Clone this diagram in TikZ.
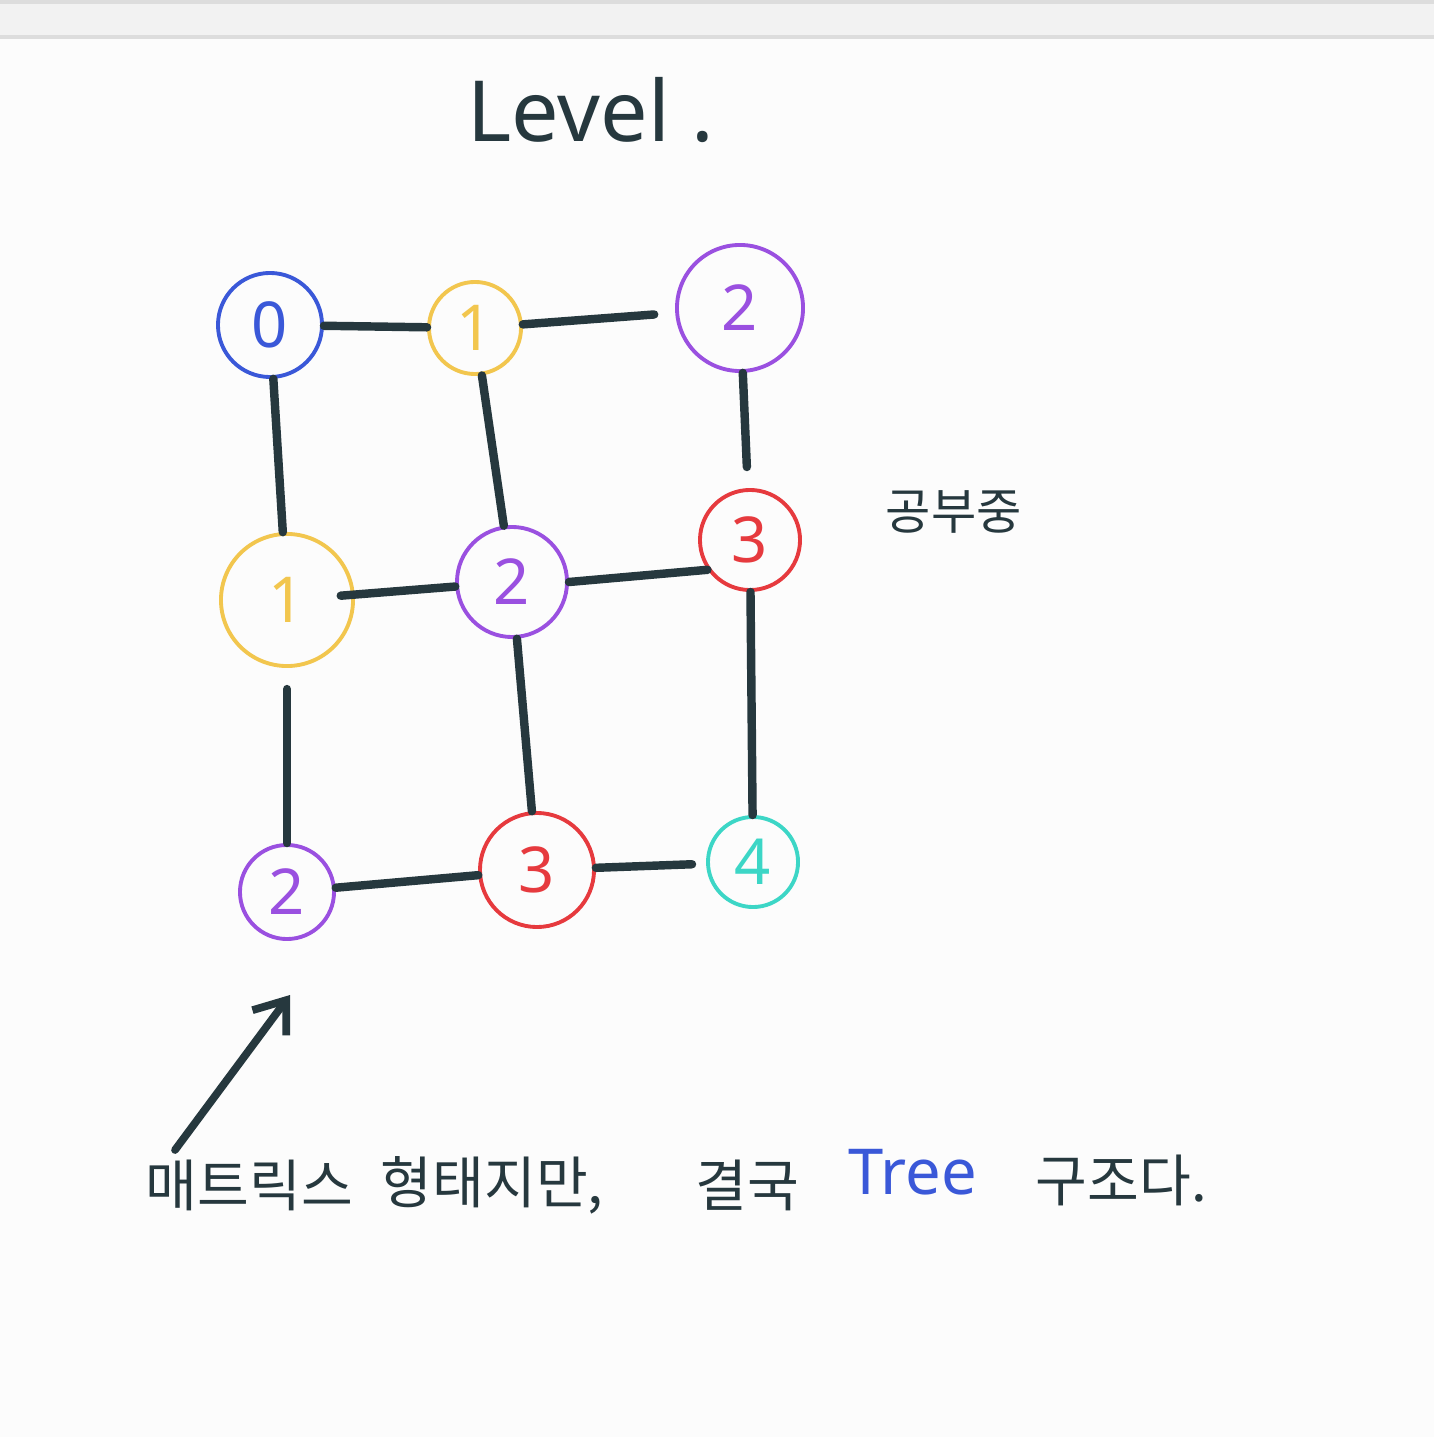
\documentclass[tikz,border=0pt]{standalone}
\usepackage{fontspec}
\setmainfont{Noto Sans}
\newfontfamily\kr{Noto Sans CJK KR}
\usepackage{tikz}
\usetikzlibrary{arrows.meta}

\definecolor{ink}{HTML}{26383E}
\definecolor{cblue}{HTML}{3A58D8}
\definecolor{cyellow}{HTML}{F2C64E}
\definecolor{cpurple}{HTML}{9A50E0}
\definecolor{cred}{HTML}{E63A3E}
\definecolor{cteal}{HTML}{3CD6C6}
\definecolor{paper}{HTML}{FCFCFC}
\definecolor{bar}{HTML}{F2F2F2}
\definecolor{barline}{HTML}{DDDDDD}

\tikzset{
  vtx/.style={circle, draw=#1, text=#1, line width=1.1pt, inner sep=0pt,
              font=\fontsize{18}{18}\selectfont},
  edge/.style={draw=ink, line width=2.4pt, line cap=round},
  krtext/.style={text=ink, anchor=west, inner sep=0pt, font=\kr\fontsize{16}{16}\selectfont}
}

\begin{document}
\begin{tikzpicture}[x=0.01cm, y=-0.01cm]
    \useasboundingbox (0,0) rectangle (1434,1437);
    \fill[paper] (0,0) rectangle (1434,1437);
    \fill[bar] (0,0) rectangle (1434,37);
    \draw[barline, line width=1pt] (0,2) -- (1434,2);
    \draw[barline, line width=1pt] (0,37) -- (1434,37);

    % title
    \node[text=ink, anchor=west, font=\fontsize{24}{24}\selectfont] (title) at (455,110) {Level .};

    % grid of levels
    \node[vtx=cblue,   minimum size=1.04cm] (a0) at (270,325) {0};
    \node[vtx=cyellow, minimum size=0.92cm] (a1) at (475,328) {1};
    \node[vtx=cpurple, minimum size=1.26cm] (a2) at (740,308) {2};
    \node[vtx=cyellow, minimum size=1.32cm] (b1) at (287,600) {1};
    \node[vtx=cpurple, minimum size=1.10cm] (b2) at (512,582) {2};
    \node[vtx=cred,    minimum size=1.00cm] (b3) at (750,540) {3};
    \node[vtx=cpurple, minimum size=0.94cm] (c2) at (287,892) {2};
    \node[vtx=cred,    minimum size=1.14cm] (c3) at (537,870) {3};
    \node[vtx=cteal,   minimum size=0.90cm] (c4) at (753,862) {4};

    \draw[edge] (a0) -- (a1);
    \draw[edge, shorten >=6pt] (a1) -- (a2);
    \draw[edge] (a0) -- (b1);
    \draw[edge] (a1) -- (b2);
    \draw[edge, shorten >=6pt] (a2) -- (b3);
    \draw[edge, shorten <=-4pt] (b1) -- (b2);
    \draw[edge] (b2.east) -- (b3.215);
    \draw[edge, shorten <=6pt] (b1) -- (c2);
    \draw[edge] (b2) -- (c3);
    \draw[edge] (b3) -- (c4);
    \draw[edge] (c2) -- (c3);
    \draw[edge, shorten >=4pt] (c3) -- (c4);

    % side note
    \node[krtext, font=\kr\fontsize{14}{14}\selectfont] (note) at (885,512) {공부중};

    % arrow and caption
    \coordinate (tail) at (175,1150);
    \coordinate (tip) at (290,995);
    \draw[ink, line width=2.2pt, line cap=round, -{Straight Barb[length=8pt, width=12pt]}] (tail) -- (tip);

    \node[krtext] (w1) at (145,1185) {매트릭스};
    \node[krtext] (w2) at (380,1185) {형태지만,};
    \node[krtext] (w3) at (695,1185) {결국};
    \node[text=cblue, anchor=west, inner sep=0pt, font=\fontsize{18}{18}\selectfont] (w4) at (848,1172) {Tree};
    \node[krtext] (w5) at (1035,1180) {구조다.};
\end{tikzpicture}
\end{document}
